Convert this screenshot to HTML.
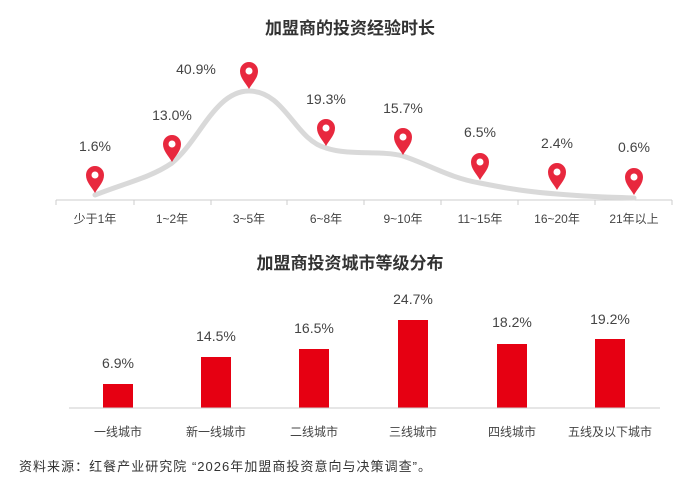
<!DOCTYPE html>
<html><head><meta charset="utf-8"><style>
body{margin:0;background:#fff;}
svg text{font-family:"Liberation Sans","Noto Sans CJK SC",sans-serif;}
</style></head><body>
<svg width="700" height="477" viewBox="0 0 700 477" xmlns="http://www.w3.org/2000/svg">
<defs>
<g id="pin"><path d="M0,13 C-4,6 -9,2 -9,-5 A9,9 0 1 1 9,-5 C9,2 4,6 0,13 Z" fill="#e8283e"/><circle cx="0" cy="-5" r="3.5" fill="#fff"/></g>
</defs>
<text x="350" y="34" text-anchor="middle" font-size="17" font-weight="bold" fill="#333">加盟商的投资经验时长</text>
<line x1="56" y1="200" x2="672" y2="200" stroke="#ccc" stroke-width="1"/>
<g stroke="#ccc" stroke-width="1">
<line x1="56" y1="200" x2="56" y2="205"/><line x1="134" y1="200" x2="134" y2="205"/><line x1="211" y1="200" x2="211" y2="205"/><line x1="287" y1="200" x2="287" y2="205"/><line x1="364" y1="200" x2="364" y2="205"/><line x1="441" y1="200" x2="441" y2="205"/><line x1="518" y1="200" x2="518" y2="205"/><line x1="595" y1="200" x2="595" y2="205"/><line x1="672" y1="200" x2="672" y2="205"/>
</g>
<path d="M95,195 C125,183 150,178 172,163 C200,140 215,91 249,91 C285,91 295,140 326,148 C350,156 380,150 403,156 C430,165 450,178 480,183 C510,189 530,192 557,194 C590,197 610,197 634,198" fill="none" stroke="#d9d9d9" stroke-width="5" stroke-linecap="round"/>
<use href="#pin" x="95" y="180"/><use href="#pin" x="172" y="149"/><use href="#pin" x="249" y="76"/><use href="#pin" x="326" y="133"/><use href="#pin" x="403" y="142"/><use href="#pin" x="480" y="167"/><use href="#pin" x="557" y="177"/><use href="#pin" x="634" y="182"/>
<g font-size="14" fill="#444" text-anchor="middle">
<text x="95" y="151">1.6%</text><text x="172" y="120">13.0%</text><text x="196" y="74">40.9%</text><text x="326" y="104">19.3%</text><text x="403" y="113">15.7%</text><text x="480" y="137">6.5%</text><text x="557" y="148">2.4%</text><text x="634" y="152">0.6%</text>
</g>
<g font-size="12" fill="#444" text-anchor="middle">
<text x="95" y="223">少于1年</text><text x="172" y="223">1~2年</text><text x="249" y="223">3~5年</text><text x="326" y="223">6~8年</text><text x="403" y="223">9~10年</text><text x="480" y="223">11~15年</text><text x="557" y="223">16~20年</text><text x="634" y="223">21年以上</text>
</g>
<text x="350" y="269" text-anchor="middle" font-size="17" font-weight="bold" fill="#333">加盟商投资城市等级分布</text>
<g fill="#e60012">
<rect x="103" y="384" width="30" height="24"/><rect x="201" y="357" width="30" height="51"/><rect x="299" y="349" width="30" height="59"/><rect x="398" y="320" width="30" height="88"/><rect x="497" y="344" width="30" height="64"/><rect x="595" y="339" width="30" height="69"/>
</g>
<line x1="69" y1="408" x2="660" y2="408" stroke="#ccc" stroke-width="1"/>
<g font-size="14" fill="#444" text-anchor="middle">
<text x="118" y="368">6.9%</text><text x="216" y="341">14.5%</text><text x="314" y="333">16.5%</text><text x="413" y="304">24.7%</text><text x="512" y="327">18.2%</text><text x="610" y="324">19.2%</text>
</g>
<g font-size="12" fill="#444" text-anchor="middle">
<text x="118" y="436">一线城市</text><text x="216" y="436">新一线城市</text><text x="314" y="436">二线城市</text><text x="413" y="436">三线城市</text><text x="512" y="436">四线城市</text><text x="610" y="436">五线及以下城市</text>
</g>
<text x="19" y="471" font-size="13" fill="#333" textLength="412" lengthAdjust="spacing">资料来源：红餐产业研究院 “2026年加盟商投资意向与决策调查”。</text>
</svg>
</body></html>
